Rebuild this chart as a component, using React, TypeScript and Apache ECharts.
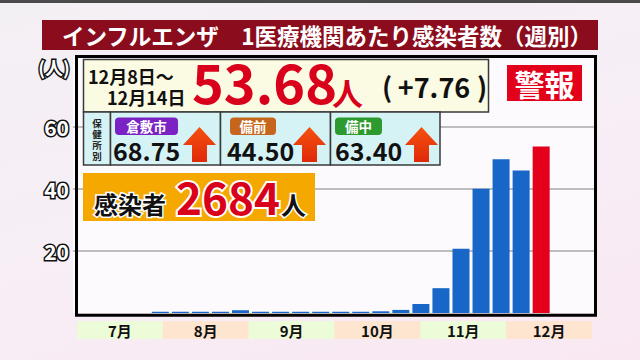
import React, { useEffect, useRef } from 'react';
import * as echarts from 'echarts';

// ---- data ----
const weekStarts = [
  '2025-07-28', '2025-08-04', '2025-08-11', '2025-08-18', '2025-08-25',
  '2025-09-01', '2025-09-08', '2025-09-15', '2025-09-22', '2025-09-29',
  '2025-10-06', '2025-10-13', '2025-10-20', '2025-10-27', '2025-11-03',
  '2025-11-10', '2025-11-17', '2025-11-24', '2025-12-01', '2025-12-08',
];
const perClinic = [
  0.4, 0.4, 0.4, 0.4, 0.9,
  0.4, 0.4, 0.4, 0.4, 0.4,
  0.4, 0.55, 1.0, 2.9, 8.0,
  20.7, 40.1, 49.6, 45.92, 53.68,
];
const months = ['7月', '8月', '9月', '10月', '11月', '12月'];
const gridValues = [20, 40, 60];
const yTickLabels = [20, 40, 60];
const axisStart = '2025-07-01';
const axisEnd = '2025-12-31';

const titleText = 'インフルエンザ　1医療機関あたり感染者数（週別）';
const periodFrom = '12月8日～';
const periodTo = '12月14日';
const headline = '53.68';
const headlineDiff = '+7.76';
const alertText = '警報';
const offices = ['倉敷市', '備前', '備中'];
const officeValues = ['68.75', '44.50', '63.40'];
const totalLabel = '感染者';
const totalCases = '2684';
const officeHeader = ['保', '健', '所', '別'];

const DAY = 86400000;
const toTime = (s: string) => {
  const [y, m, d] = s.split('-').map(Number);
  return new Date(y, m - 1, d).getTime();
};

const JP = '"Noto Sans CJK JP", "Noto Sans", sans-serif';
const BLUE = '#1766c8';
const RED = '#e4001b';

const GRID_LEFT = 73;
const GRID_RIGHT_EDGE = 597;
const BAR_W = 17;

export default function App() {
  const ref = useRef<HTMLDivElement>(null);

  useEffect(() => {
    if (!ref.current) return;
    const chart = echarts.init(ref.current, null, { renderer: 'svg' });

    const last = perClinic.length - 1;
    const barData = weekStarts.map((s, i) => ({
      value: [toTime(s) + 3.5 * DAY, perClinic[i]],
      itemStyle: { color: i === last ? RED : BLUE },
    }));

    // ECharts widens a bar series' time axis by half a bar on each side;
    // pre-shrink the range so the final extent is axisStart..axisEnd.
    const t0 = toTime(axisStart);
    const t1 = toTime(axisEnd);
    const axisLen = GRID_RIGHT_EDGE - GRID_LEFT;
    const pad = ((t1 - t0) * (BAR_W / 2)) / axisLen;

    const txt = (text: string, x: number, y: number, font: string, fill: string, align = 'center', extra: any = {}, z = 110) => ({
      type: 'text', x, y, z,
      style: { text, font, fill, textAlign: align, textVerticalAlign: 'middle', ...extra },
    });
    // outlined text: stroke layer underneath, fill layer on top
    const outlined = (text: string, x: number, y: number, font: string, fill: string, strokeColor: string, w: number, align = 'center') => [
      { type: 'text', x, y, z: 111, silent: true,
        style: { text, font, fill: strokeColor, stroke: strokeColor, lineWidth: w, textAlign: align, textVerticalAlign: 'middle' } },
      txt(text, x, y, font, fill, align, {}, 112),
    ];
    const arrow = (x0: number) => ({
      type: 'polygon', z: 110,
      shape: {
        points: [
          [x0 + 16.5, 127], [x0 + 33, 145], [x0 + 24, 145], [x0 + 24, 162],
          [x0 + 9, 162], [x0 + 9, 145], [x0, 145],
        ],
      },
      style: {
        fill: new echarts.graphic.LinearGradient(0, 0, 0, 1, [
          { offset: 0, color: '#f4520f' },
          { offset: 1, color: '#e0280a' },
        ]),
      },
    });
    const cellStroke = { stroke: '#3a3a3a', lineWidth: 1.5 };
    const tagColors = ['#7b22c4', '#c6661c', '#2d9a2f'];
    const tagX = [115, 230, 335];
    const tagW = [63, 46, 47];
    const valX = [113, 227, 335];
    const arrowX = [183, 293, 405];

    const graphics: any[] = [
      { type: 'rect', z: 120, shape: { x: 0, y: 0, width: 640, height: 3 }, style: { fill: '#4a4a4a' } },
      // title
      { type: 'rect', z: 110, shape: { x: 42, y: 20, width: 556, height: 30 }, style: { fill: '#8b0c1c' } },
      txt(titleText, 327, 35, `bold 22.5px ${JP}`, '#ffffff', 'center', {
        shadowColor: 'rgba(0,0,0,0.7)', shadowBlur: 2, shadowOffsetX: 1, shadowOffsetY: 1,
      }),
      // unit
      ...outlined('(人)', 54, 67, `bold 18px ${JP}`, '#ffffff', '#111', 3),
      // plot frame
      { type: 'rect', z: 50, shape: { x: 76.5, y: 56.5, width: 519, height: 258.8 }, style: { fill: 'none', stroke: '#000', lineWidth: 3 } },
      // headline box
      { type: 'rect', z: 105, shape: { x: 83.5, y: 59.5, width: 405, height: 52.5 }, style: { fill: '#fbfbe3', ...cellStroke } },
      txt(periodFrom, 88, 76, `bold 18px ${JP}`, '#111', 'left'),
      txt(periodTo, 107, 97, `bold 18px ${JP}`, '#111', 'left'),
      txt(headline, 192, 80, `bold 54px ${JP}`, '#d9001b', 'left'),
      txt('人', 332, 91, `bold 31px ${JP}`, '#d9001b', 'left'),
      txt('(', 387, 86, `bold 27px ${JP}`, '#111', 'center'),
      txt(headlineDiff, 434, 86, `bold 27px ${JP}`, '#111', 'center'),
      txt(')', 482, 86, `bold 27px ${JP}`, '#111', 'center'),
      // alert badge
      { type: 'rect', z: 105, shape: { x: 507, y: 65, width: 75, height: 36 }, style: { fill: '#e3001b' } },
      txt(alertText, 544.5, 83, `bold 30px ${JP}`, '#ffffff', 'center'),
      // health office row
      { type: 'rect', z: 105, shape: { x: 83.5, y: 112, width: 27, height: 53 }, style: { fill: '#d5f2f5', ...cellStroke } },
      { type: 'rect', z: 105, shape: { x: 110.5, y: 112, width: 110, height: 53 }, style: { fill: '#d5f2f5', ...cellStroke } },
      { type: 'rect', z: 105, shape: { x: 220.5, y: 112, width: 110, height: 53 }, style: { fill: '#d5f2f5', ...cellStroke } },
      { type: 'rect', z: 105, shape: { x: 330.5, y: 112, width: 109.5, height: 53 }, style: { fill: '#d5f2f5', ...cellStroke } },
      // total box
      { type: 'rect', z: 105, shape: { x: 83, y: 173, width: 232, height: 48 }, style: { fill: '#f5a900' } },
      ...outlined(totalLabel, 130, 203, `bold 24px ${JP}`, '#111', '#ffffff', 3),
      ...outlined(totalCases, 176, 196, `bold 44px ${JP}`, '#d9001b', '#ffffff', 4, 'left'),
      ...outlined('人', 281, 204, `bold 25px ${JP}`, '#111', '#ffffff', 3, 'left'),
    ];
    officeHeader.forEach((ch, i) => {
      graphics.push(txt(ch, 97, 122.5 + i * 11.3, `bold 9.5px ${JP}`, '#222', 'center'));
    });
    offices.forEach((name, i) => {
      graphics.push({
        type: 'rect', z: 108,
        shape: { x: tagX[i], y: 117.5, width: tagW[i], height: 17.5, r: 4 },
        style: { fill: tagColors[i] },
      });
      graphics.push(txt(name, tagX[i] + tagW[i] / 2, 125.5, `bold 13.5px ${JP}`, '#ffffff', 'center'));
      graphics.push(txt(officeValues[i], valX[i], 150, `bold 25px ${JP}`, '#111', 'left'));
      graphics.push(arrow(arrowX[i]));
    });

    const yLabelBase = {
      margin: 4,
      formatter: (v: number) => (yTickLabels.includes(v) ? String(v) : ''),
      fontSize: 21, fontWeight: 'bold', fontFamily: JP,
    };

    chart.setOption({
      animation: false,
      backgroundColor: 'transparent',
      grid: [
        { left: GRID_LEFT, right: 640 - GRID_RIGHT_EDGE, top: 56.5, bottom: 47, show: true, backgroundColor: '#fdfafd', borderWidth: 0 },
        { left: 77, right: 48, top: 321, height: 18 },
      ],
      xAxis: [
        {
          type: 'time', gridIndex: 0,
          min: t0 + pad, max: t1 - pad,
          axisLabel: { show: false }, axisLine: { show: false }, axisTick: { show: false }, splitLine: { show: false },
        },
        {
          type: 'category', gridIndex: 1, data: months,
          axisLabel: { show: false }, axisLine: { show: false }, axisTick: { show: false }, splitLine: { show: false },
        },
      ],
      yAxis: [
        {
          type: 'value', gridIndex: 0, min: 0, max: 82.7, interval: 20, position: 'left', z: 10,
          splitLine: { show: false }, axisLine: { show: false }, axisTick: { show: false },
          axisLabel: { ...yLabelBase, color: '#ffffff' },
        },
        {
          type: 'value', gridIndex: 1, min: 0, max: 1, show: false,
        },
        {
          type: 'value', gridIndex: 0, min: 0, max: 82.7, interval: 20, position: 'left', offset: 0, z: 0,
          splitLine: { show: false }, axisLine: { show: false }, axisTick: { show: false },
          axisLabel: { ...yLabelBase, color: '#111', textBorderColor: '#111', textBorderWidth: 3 },
        },
      ],
      series: [
        {
          type: 'bar', xAxisIndex: 0, yAxisIndex: 0, z: 2,
          barWidth: BAR_W,
          data: barData,
          markLine: {
            z: 1, silent: true, symbol: ['none', 'none'],
            label: { show: false },
            lineStyle: { color: '#a8a8a8', width: 1.5, type: 'solid' },
            data: gridValues.map((v) => ({ yAxis: v })),
          },
        },
        {
          type: 'bar', xAxisIndex: 1, yAxisIndex: 1,
          barWidth: '100%', barCategoryGap: 0,
          data: months.map((m, i) => ({
            value: 1,
            itemStyle: { color: i % 2 === 0 ? '#ecfbd8' : '#fde5cf' },
          })),
          label: {
            show: true, position: 'inside', formatter: '{b}',
            color: '#111', fontSize: 15, fontWeight: 'bold', fontFamily: JP,
          },
        },
      ],
      graphic: { elements: graphics },
    });

    return () => chart.dispose();
  }, []);

  return (
    <div
      style={{
        position: 'fixed', left: 0, top: 0, width: 640, height: 360,
        background: 'linear-gradient(165deg, #f3f0f4 0%, #f7eef6 50%, #f9e8f2 100%)',
      }}
    >
      <div ref={ref} style={{ width: 640, height: 360 }} />
    </div>
  );
}
